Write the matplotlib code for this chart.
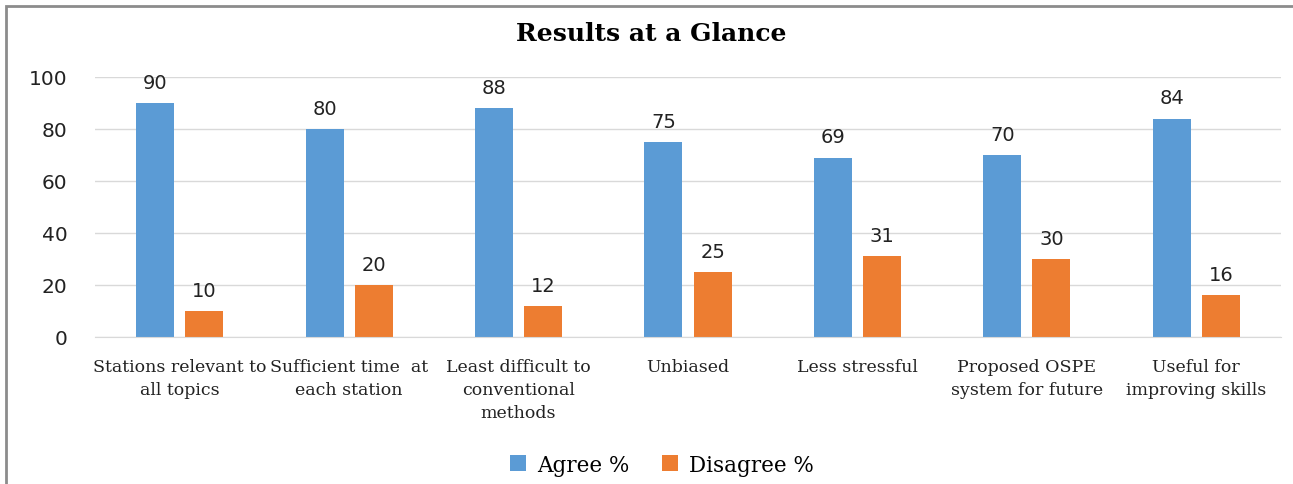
import matplotlib.pyplot as plt
import matplotlib.patches as mpatches
import numpy as np

categories = [
    "Stations relevant to\nall topics",
    "Sufficient time  at\neach station",
    "Least difficult to\nconventional\nmethods",
    "Unbiased",
    "Less stressful",
    "Proposed OSPE\nsystem for future",
    "Useful for\nimproving skills",
]
agree = [90, 80, 88, 75, 69, 70, 84]
disagree = [10, 20, 12, 25, 31, 30, 16]
yticks = [0, 20, 40, 60, 80, 100]

BLUE = "#5B9BD5"
ORANGE = "#ED7D31"
SERIF = "DejaVu Serif"

fig = plt.figure(figsize=(12.93, 4.85), dpi=100)
ax = fig.add_axes([0.0735, 0.3031, 0.9172, 0.5361])

x = np.arange(len(categories))
w = 0.224
off = 0.145
b1 = ax.bar(x - off, agree, w, color=BLUE, label="Agree %")
b2 = ax.bar(x + off, disagree, w, color=ORANGE, label="Disagree %")

for bars, vals in ((b1, agree), (b2, disagree)):
    for rect, v in zip(bars, vals):
        ax.annotate(str(v), (rect.get_x() + rect.get_width() / 2, v),
                    xytext=(0, 8), textcoords="offset points",
                    ha="center", va="bottom", fontsize=14, color="#222222")

ax.set_xlim(-0.5, len(categories) - 0.5)
ax.set_ylim(0, 100)
ax.set_yticks(yticks)
ax.tick_params(axis="y", length=0, labelsize=14.5, pad=20, labelcolor="#222222")
ax.tick_params(axis="x", length=0, pad=15)
ax.set_xticks(x)
ax.set_xticklabels(categories, fontfamily=SERIF, fontsize=12.5, color="#222222",
                   linespacing=1.45)
ax.grid(True, axis="y", color="#d9d9d9", linewidth=1)
ax.set_axisbelow(True)
for s in ("top", "right", "left"):
    ax.spines[s].set_visible(False)
ax.spines["bottom"].set_color("#d9d9d9")

fig.text(0.504, 0.93, "Results at a Glance", ha="center", va="center",
         fontfamily=SERIF, fontweight="bold", fontsize=18)

fig.legend(handles=[b1, b2], loc="center", bbox_to_anchor=(0.512, 0.04),
           ncol=2, frameon=False, prop={"family": SERIF, "size": 15.5},
           handlelength=0.75, handleheight=0.75, columnspacing=1.5,
           handletextpad=0.5)

# outer chart border (cropped on right and bottom)
fig.patches.append(mpatches.Rectangle((6 / 1293, -0.1), 1.2, 1 - 7 / 485 + 0.1,
                                      transform=fig.transFigure, fill=False,
                                      edgecolor="#8c8c8c", linewidth=2))

fig.savefig("out.png", dpi=100)
